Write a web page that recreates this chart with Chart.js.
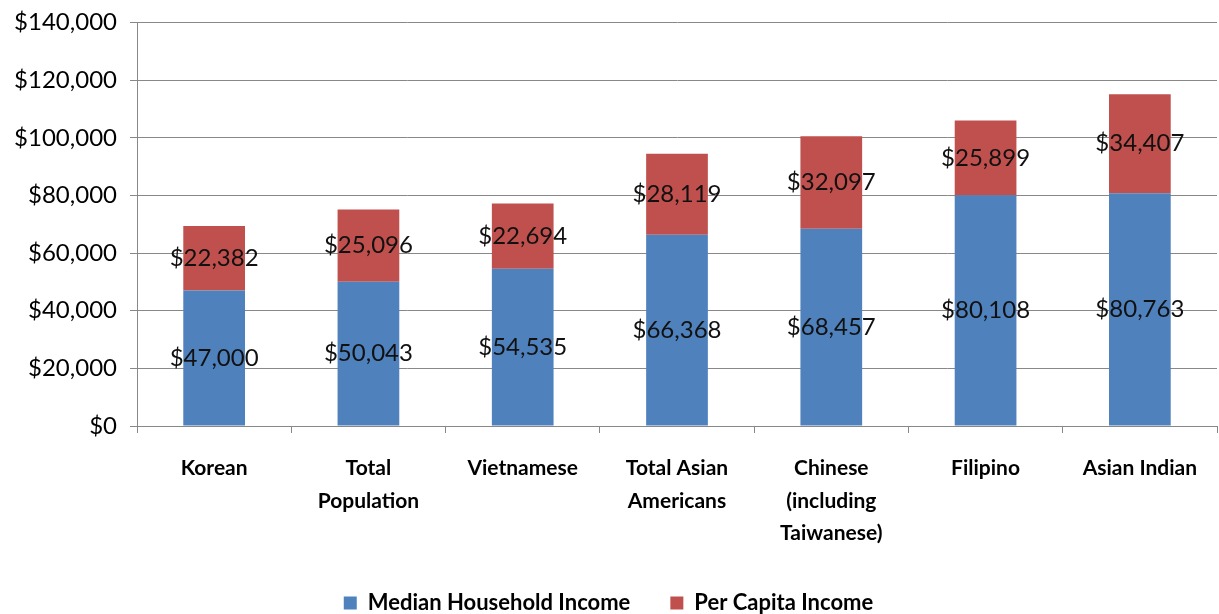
<!DOCTYPE html>
<html>
<head>
<meta charset="utf-8">
<script src="https://cdn.jsdelivr.net/npm/chart.js@4"></script>
<style>
  html, body { margin: 0; padding: 0; background: #fff; }
  #wrap { width: 1219px; height: 614px; }
</style>
</head>
<body>
<div id="wrap"><canvas id="myChart"></canvas></div>
<script>
const groups = ["Korean", ["Total", "Population"], "Vietnamese", ["Total Asian", "Americans"], ["Chinese", "(including", "Taiwanese)"], "Filipino", "Asian Indian"];
const medianIncome = [47000, 50043, 54535, 66368, 68457, 80108, 80763];
const perCapita = [22382, 25096, 22694, 28119, 32097, 25899, 34407];
const seriesNames = ["Median Household Income", "Per Capita Income"];
const colors = ["#4F81BD", "#C0504D"];
const fontName = "Lato, 'Open Sans', sans-serif";

function money(v){
    return "$" + v.toLocaleString("en-US");
}

// draws the value in the middle of every bar piece
const midLabels = {
    id: "midLabels",
    afterDatasetsDraw(chart){
        const ctx = chart.ctx;
        ctx.save();
        ctx.font = "24px " + fontName;
        ctx.fillStyle = "#111";
        ctx.textAlign = "center";
        ctx.textBaseline = "middle";
        chart.data.datasets.forEach((ds, i) => {
            chart.getDatasetMeta(i).data.forEach((bar, j) => {
                const p = bar.getProps(["x", "y", "base"], true);
                ctx.fillText(money(ds.data[j]), p.x, (p.y + p.base) / 2);
            });
        });
        ctx.restore();
    }
};

new Chart("myChart", {
    type: "bar",
    data: {
        labels: groups,
        datasets: [
            { label: seriesNames[0], data: medianIncome, backgroundColor: colors[0] },
            { label: seriesNames[1], data: perCapita, backgroundColor: colors[1] }
        ]
    },
    options: {
        responsive: true,
        maintainAspectRatio: false,
        animation: false,
        layout: { padding: { top: 0, right: 2, left: 0, bottom: 0 } },
        datasets: { bar: { barPercentage: 0.4, categoryPercentage: 1 } },
        plugins: {
            tooltip: { enabled: false },
            legend: {
                position: "bottom",
                maxHeight: 62,
                labels: {
                    boxWidth: 13, boxHeight: 13, padding: 40,
                    color: "#000",
                    font: { family: fontName, size: 22, weight: "bold" }
                }
            }
        },
        scales: {
            x: {
                stacked: true,
                afterFit: s => { s.height = 126; },
                grid: { offset: true, drawOnChartArea: false, tickLength: 7, color: "#888" },
                border: { color: "#888" },
                ticks: {
                    color: "#000", padding: 19,
                    maxRotation: 0, autoSkip: false,
                    font: { family: fontName, size: 21, weight: "bold", lineHeight: 1.55 }
                }
            },
            y: {
                stacked: true,
                min: 0, max: 140000,
                afterFit: s => { s.width = 137; },
                grid: { color: "#888", tickLength: 7 },
                border: { color: "#888" },
                ticks: {
                    stepSize: 20000, color: "#000", padding: 13,
                    font: { family: fontName, size: 24, lineHeight: 0.8 },
                    callback: v => money(v)
                }
            }
        }
    },
    plugins: [midLabels]
});
</script>
</body>
</html>
